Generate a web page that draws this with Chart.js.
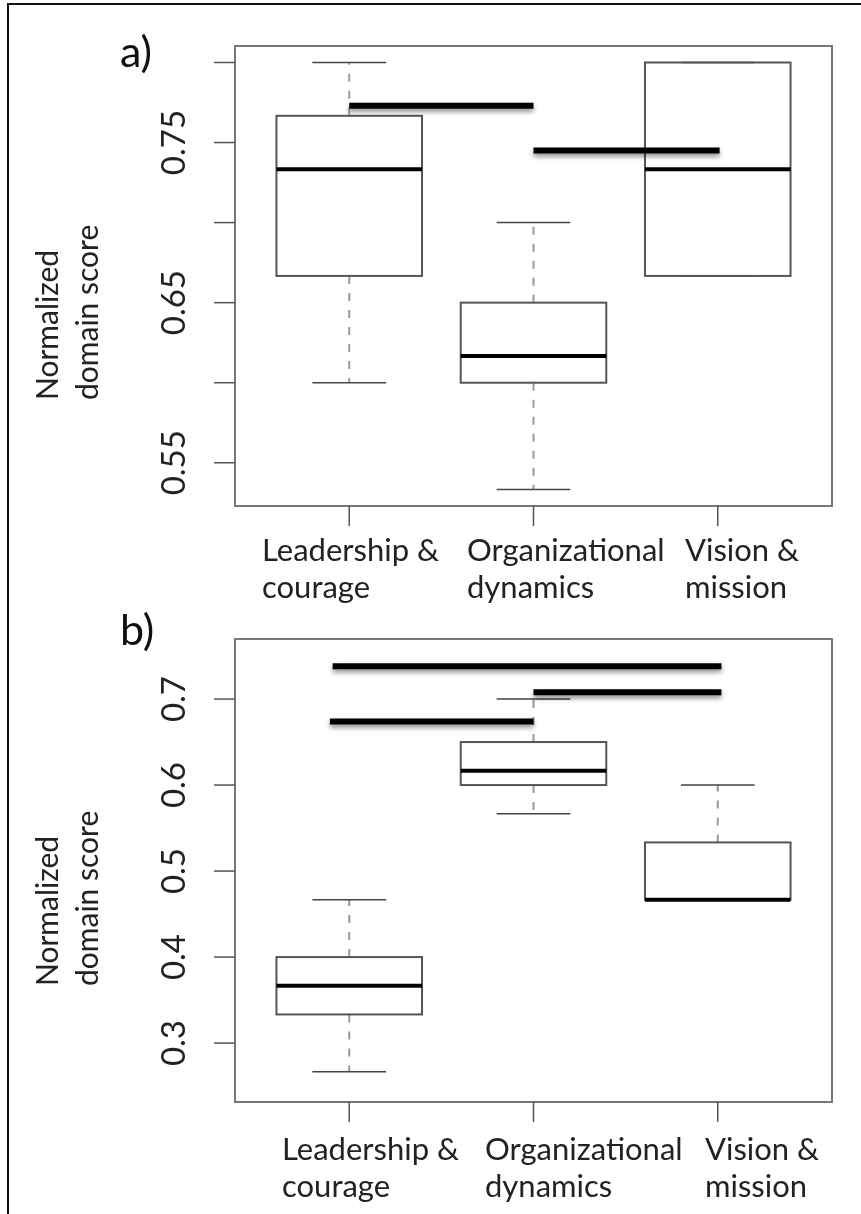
<!DOCTYPE html>
<html lang="en">
<head>
<meta charset="UTF-8">
<title>Normalized domain score</title>
<script src="https://cdn.jsdelivr.net/npm/chart.js"></script>
<style>
  body { margin: 0; background: #fff; }
  .page { position: relative; width: 861px; height: 1214px; overflow: hidden; background: #fff; }
  .frame { position: absolute; left: 7px; top: 3px; width: 900px; height: 1300px; border: 2px solid #111; }
  canvas { position: absolute; left: 0; top: 0; }
</style>
</head>
<body>
<div class="page">
  <div class="frame"></div>
  <canvas id="chartA" width="861" height="1214"></canvas>
  <canvas id="chartB" width="861" height="1214"></canvas>
</div>
<script>
// categories (two text lines each) and their positions on the x axis
const categories = [['Leadership &', 'courage'], ['Organizational', 'dynamics'], ['Vision &', 'mission']];
const catPos = [1, 2, 3];

// panel a) box statistics
const aLow    = [0.600, 0.5333, 0.6667];
const aQ1     = [0.6667, 0.600, 0.6667];
const aMedian = [0.7333, 0.6167, 0.7333];
const aQ3     = [0.7667, 0.650, 0.800];
const aHigh   = [0.800, 0.700, 0.800];
// panel a) significance bars
const aSigFrom = [1, 2];
const aSigTo   = [2, 3.01];
const aSigY    = [0.773, 0.745];
const aTicks      = [0.55, 0.60, 0.65, 0.70, 0.75, 0.80];
const aTickLabels = ['0.55', '', '0.65', '', '0.75', ''];

// panel b) box statistics
const bLow    = [0.2667, 0.5667, 0.4667];
const bQ1     = [0.3333, 0.600, 0.4667];
const bMedian = [0.3667, 0.6167, 0.4667];
const bQ3     = [0.400, 0.650, 0.5333];
const bHigh   = [0.4667, 0.700, 0.600];
// panel b) significance bars
const bSigFrom = [0.91, 2, 0.895];
const bSigTo   = [3.02, 3.02, 2];
const bSigY    = [0.738, 0.708, 0.674];
const bTicks      = [0.3, 0.4, 0.5, 0.6, 0.7];
const bTickLabels = ['0.3', '0.4', '0.5', '0.6', '0.7'];

const FONT = 'Lato, "Open Sans", sans-serif';

// draws frame, axes, labels and the boxes with the chart's scales
const boxPlot = {
  id: 'boxPlot',
  beforeDatasetsDraw(chart, args, o) {
    const ctx = chart.ctx;
    const x = chart.scales.x, y = chart.scales.y;
    const a = chart.chartArea;
    ctx.save();

    // plot frame
    ctx.strokeStyle = '#777';
    ctx.lineWidth = 2;
    ctx.strokeRect(a.left, a.top, a.right - a.left, a.bottom - a.top);

    // y ticks + rotated labels
    ctx.strokeStyle = '#555';
    ctx.lineWidth = 1.5;
    ctx.fillStyle = '#222';
    ctx.font = '33px ' + FONT;
    o.ticks.forEach((v, i) => {
      const py = y.getPixelForValue(v);
      ctx.beginPath();
      ctx.moveTo(a.left - 21, py);
      ctx.lineTo(a.left, py);
      ctx.stroke();
      if (o.tickLabels[i]) {
        ctx.save();
        ctx.translate(a.left - 50, py);
        ctx.rotate(-Math.PI / 2);
        ctx.textAlign = 'center';
        ctx.textBaseline = 'alphabetic';
        ctx.fillText(o.tickLabels[i], 0, 0);
        ctx.restore();
      }
    });

    // x ticks + category labels
    ctx.font = '31px ' + FONT;
    ctx.textAlign = 'left';
    ctx.textBaseline = 'alphabetic';
    catPos.forEach((c, i) => {
      const px = x.getPixelForValue(c);
      ctx.beginPath();
      ctx.moveTo(px, a.bottom);
      ctx.lineTo(px, a.bottom + 20);
      ctx.stroke();
      categories[i].forEach((line, j) => {
        ctx.fillText(line, o.labelX[i], o.labelY + j * 37);
      });
    });

    // y title, two lines, rotated
    ctx.font = '30px ' + FONT;
    ['Normalized', 'domain score'].forEach((line, j) => {
      ctx.save();
      ctx.translate(58 + j * 40, o.titleY);
      ctx.rotate(-Math.PI / 2);
      ctx.fillText(line, 0, 0);
      ctx.restore();
    });

    // panel letter
    ctx.font = '43px ' + FONT;
    ctx.fillStyle = '#111';
    ctx.fillText(o.letter, 120, o.letterY);

    // boxes
    const d = o.stats;
    const half = 0.395, cap = 0.2;
    catPos.forEach((c, i) => {
      const cx = x.getPixelForValue(c);
      const l = x.getPixelForValue(c - half), r = x.getPixelForValue(c + half);
      const cl = x.getPixelForValue(c - cap), cr = x.getPixelForValue(c + cap);
      const yLow = y.getPixelForValue(d.low[i]), yQ1 = y.getPixelForValue(d.q1[i]);
      const yMed = y.getPixelForValue(d.median[i]), yQ3 = y.getPixelForValue(d.q3[i]);
      const yHigh = y.getPixelForValue(d.high[i]);

      // whiskers
      ctx.strokeStyle = '#999';
      ctx.lineWidth = 2;
      ctx.setLineDash([8, 9]);
      ctx.beginPath();
      ctx.moveTo(cx, yQ1); ctx.lineTo(cx, yLow);
      ctx.moveTo(cx, yQ3); ctx.lineTo(cx, yHigh);
      ctx.stroke();
      ctx.setLineDash([]);

      // caps
      ctx.strokeStyle = '#444';
      ctx.lineWidth = 1.5;
      ctx.beginPath();
      ctx.moveTo(cl, yLow); ctx.lineTo(cr, yLow);
      ctx.moveTo(cl, yHigh); ctx.lineTo(cr, yHigh);
      ctx.stroke();

      // box
      ctx.strokeStyle = '#555';
      ctx.lineWidth = 2;
      ctx.strokeRect(l, yQ3, r - l, yQ1 - yQ3);

      // median
      ctx.strokeStyle = '#000';
      ctx.lineWidth = 4;
      ctx.beginPath();
      ctx.moveTo(l, yMed); ctx.lineTo(r, yMed);
      ctx.stroke();
    });
    ctx.restore();
  },
  beforeDatasetDraw(chart) {
    const ctx = chart.ctx;
    ctx.save();
    ctx.shadowColor = 'rgba(0,0,0,0.45)';
    ctx.shadowBlur = 5;
    ctx.shadowOffsetY = 3;
  },
  afterDatasetDraw(chart) {
    chart.ctx.restore();
  }
};

function sigSets(from, to, ys) {
  return ys.map((v, i) => ({
    data: [{ x: from[i], y: v }, { x: to[i], y: v }],
    showLine: true,
    borderColor: '#000',
    borderWidth: 6,
    borderCapStyle: 'butt',
    pointRadius: 0,
    clip: false
  }));
}

function makePanel(id, opts) {
  return new Chart(document.getElementById(id), {
    type: 'scatter',
    data: { datasets: sigSets(opts.sigFrom, opts.sigTo, opts.sigY) },
    options: {
      responsive: false,
      animation: false,
      events: [],
      layout: { padding: opts.padding },
      scales: {
        x: { type: 'linear', min: 0.38, max: 3.62, display: false },
        y: { type: 'linear', min: opts.yMin, max: opts.yMax, display: false }
      },
      plugins: {
        legend: { display: false },
        tooltip: { enabled: false },
        boxPlot: opts.box
      }
    },
    plugins: [boxPlot]
  });
}

makePanel('chartA', {
  sigFrom: aSigFrom, sigTo: aSigTo, sigY: aSigY,
  yMin: 0.523, yMax: 0.8103,
  padding: { left: 235, right: 29, top: 46, bottom: 708 },
  box: {
    stats: { low: aLow, q1: aQ1, median: aMedian, q3: aQ3, high: aHigh },
    ticks: aTicks, tickLabels: aTickLabels,
    labelX: [262, 467, 685], labelY: 561,
    titleY: 400, letter: 'a)', letterY: 67
  }
});

makePanel('chartB', {
  sigFrom: bSigFrom, sigTo: bSigTo, sigY: bSigY,
  yMin: 0.2315, yMax: 0.7698,
  padding: { left: 235, right: 29, top: 639, bottom: 112 },
  box: {
    stats: { low: bLow, q1: bQ1, median: bMedian, q3: bQ3, high: bHigh },
    ticks: bTicks, tickLabels: bTickLabels,
    labelX: [282, 485, 705], labelY: 1160,
    titleY: 986, letter: 'b)', letterY: 645
  }
});
</script>
</body>
</html>
